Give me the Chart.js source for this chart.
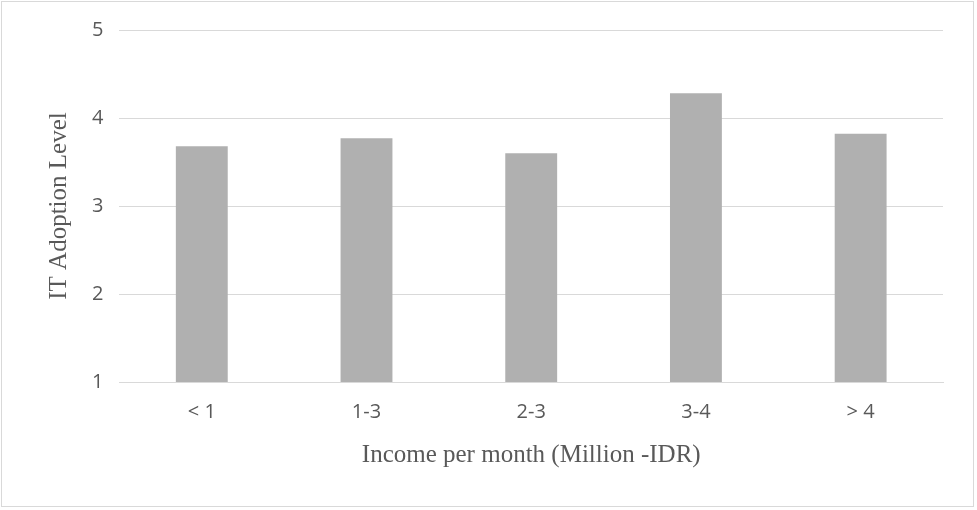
<!DOCTYPE html>
<html><head><meta charset="utf-8">
<script src="https://cdn.jsdelivr.net/npm/chart.js"></script>
<style>
html,body{margin:0;padding:0;background:#fff;}
#wrap{position:absolute;left:1px;top:1px;width:973px;height:506px;border:1px solid #d9d9d9;box-sizing:border-box;}
</style></head><body>
<div id="wrap"><canvas id="c"></canvas></div>
<script>
const categories = ["< 1", "1-3", "2-3", "3-4", "> 4"];
const adoptionLevel = [3.68, 3.77, 3.60, 4.28, 3.82];
const yTicks = [1, 2, 3, 4, 5];

new Chart(document.getElementById('c'), {
  type: 'bar',
  data: { labels: categories, datasets: [{ data: adoptionLevel, backgroundColor: '#b0b0b0', barPercentage: 0.315, categoryPercentage: 1 }] },
  options: {
    responsive: true, maintainAspectRatio: false, animation: false,
    layout: { padding: { left: 42, right: 30, top: 18, bottom: 32 } },
    plugins: { legend: { display: false }, tooltip: { enabled: false } },
    scales: {
      x: {
        grid: { display: false },
        border: { color: '#d9d9d9' },
        ticks: { color: '#595959', font: { family: 'Open Sans', size: 20 }, padding: 10 },
        title: { display: true, text: 'Income per month (Million -IDR)', color: '#595959', font: { family: 'Liberation Serif', size: 25 }, padding: { top: 6 } }
      },
      y: {
        min: 1, max: 5,
        afterBuildTicks: a => { a.ticks = yTicks.map(v => ({ value: v })); },
        grid: { color: '#d9d9d9', drawTicks: false },
        border: { display: false },
        ticks: { color: '#595959', font: { family: 'Open Sans', size: 20 }, padding: 16 },
        title: { display: true, text: 'IT Adoption Level', color: '#595959', font: { family: 'Liberation Serif', size: 25 }, padding: { top: 0, bottom: 2 } }
      }
    }
  }
});
</script></body></html>
